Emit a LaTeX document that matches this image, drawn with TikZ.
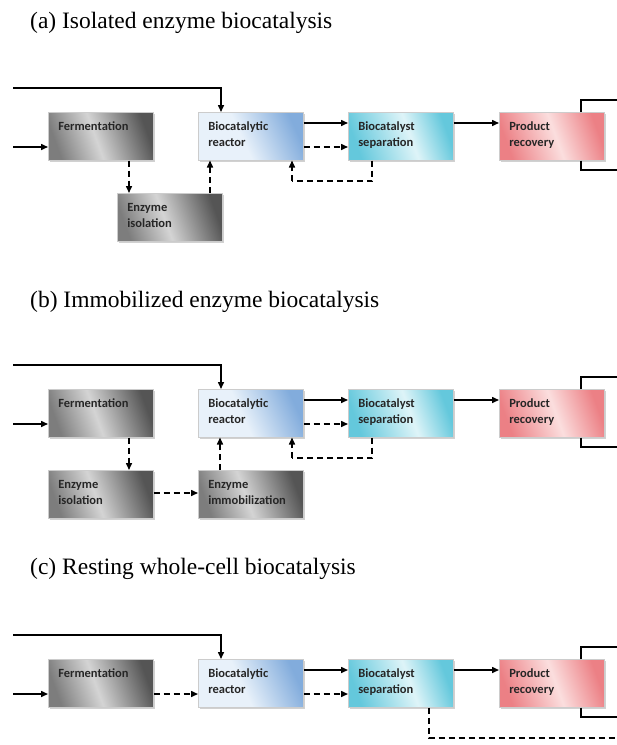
\documentclass[tikz,border=0pt]{standalone}
\usepackage{fontspec}
\setmainfont{Liberation Serif}
\newfontfamily\boxfont{Carlito}
\usetikzlibrary{arrows.meta,calc,shadows}
\definecolor{grayD}{RGB}{85,85,85}
\definecolor{grayM}{RGB}{125,125,125}
\definecolor{grayL}{RGB}{212,212,212}
\definecolor{blueD}{RGB}{130,172,220}
\definecolor{blueL}{RGB}{232,241,250}
\definecolor{cyanD}{RGB}{100,200,220}
\definecolor{cyanL}{RGB}{222,244,248}
\definecolor{pinkD}{RGB}{236,128,133}
\definecolor{pinkL}{RGB}{251,222,222}
\pgfdeclarehorizontalshading{grsh}{100bp}{color(0bp)=(grayM); color(25bp)=(grayM); color(47bp)=(grayL); color(75bp)=(grayD); color(100bp)=(grayD)}
\pgfdeclarehorizontalshading{blsh}{100bp}{color(0bp)=(blueL); color(25bp)=(blueL); color(45bp)=(blueL); color(75bp)=(blueD); color(100bp)=(blueD)}
\pgfdeclarehorizontalshading{cysh}{100bp}{color(0bp)=(cyanD); color(25bp)=(cyanD); color(55bp)=(cyanL); color(75bp)=(cyanD); color(100bp)=(cyanD)}
\pgfdeclarehorizontalshading{pksh}{100bp}{color(0bp)=(pinkD); color(25bp)=(pinkD); color(52bp)=(pinkL); color(75bp)=(pinkD); color(100bp)=(pinkD)}
\tikzset{
  proc/.style={rectangle, anchor=north west, inner xsep=10pt, inner ysep=0pt,
    text width=85pt, align=left, text height=18.5pt, text depth=29.5pt,
    font=\boxfont\bfseries\fontsize{12.5}{16}\selectfont, text=black!85,
    draw=black!20, line width=0.5pt,
    drop shadow={shadow xshift=1.5pt, shadow yshift=-1.5pt, opacity=0.3, fill=black!60}},
  graybox/.style={proc, shading=grsh, shading angle=20},
  bluebox/.style={proc, shading=blsh, shading angle=25},
  cyanbox/.style={proc, shading=cysh, shading angle=20},
  pinkbox/.style={proc, shading=pksh, shading angle=20},
  arr/.style={line width=1.5pt, -{Triangle[length=7pt,width=6pt]}},
  ln/.style={line width=1.5pt},
  dsh/.style={line width=1.5pt, dash pattern=on 6pt off 4pt},
  darr/.style={dsh, -{Triangle[length=7pt,width=6pt]}},
  ttl/.style={anchor=base west, font=\fontsize{23.5}{26}\selectfont, inner sep=0pt}
}
% common row: #1 = prefix
\newcommand\mainrow[1]{%
  \node[graybox] (#1ferm) at (48,112) {Fermentation};
  \node[bluebox] (#1reac) at (198,112) {Biocatalytic\\reactor};
  \node[cyanbox] (#1sep) at (348,112) {Biocatalyst\\separation};
  \node[pinkbox] (#1prod) at (499,112) {Product\\recovery};
  \coordinate (#1topin) at (13,88);
  \coordinate (#1in) at (13,147);
  \coordinate (#1rt) at (619,100);
  \coordinate (#1rb) at (619,170);
  \draw[arr] (#1topin) -| ($(#1reac.north west)+(23,0)$);
  \draw[arr] (#1in) -- (#1in -| #1ferm.west);
  \draw[arr] ($(#1reac.north east)+(0,11)$) coordinate (#1s1) -- (#1s1 -| #1sep.west);
  \draw[darr] ($(#1reac.north east)+(0,35)$) coordinate (#1d1) -- (#1d1 -| #1sep.west);
  \draw[arr] ($(#1sep.north east)+(0,11)$) coordinate (#1s2) -- (#1s2 -| #1prod.west);
  \draw[ln] ($(#1prod.north west)+(82,0)$) |- (#1rt);
  \draw[ln] ($(#1prod.south west)+(82,0)$) |- (#1rb);
}
\begin{document}
\begin{tikzpicture}[x=1pt,y=-1pt]
\useasboundingbox (0,0) rectangle (617,745);
% ---------------- (a)
\node[ttl] (ta) at (30,28) {(a) Isolated enzyme biocatalysis};
\begin{scope}
  \mainrow{a}
  \node[graybox] (aiso) at (117,193) {Enzyme\\isolation};
  \draw[darr] ($(aferm.south west)+(81,0)$) coordinate (ad2) -- (ad2 |- aiso.north);
  \draw[darr] ($(aiso.north west)+(93,0)$) coordinate (ad3) -- (ad3 |- areac.south);
  \coordinate (aret) at (292,181);
  \draw[dsh] ($(asep.south west)+(24,0)$) |- (aret);
  \draw[darr] (aret) -- (aret |- areac.south);
\end{scope}
% ---------------- (b)
\node[ttl] (tb) at (30,307) {(b) Immobilized enzyme biocatalysis};
\begin{scope}[yshift=-277pt]
  \mainrow{b}
  \node[graybox] (biso) at (48,193) {Enzyme\\isolation};
  \node[graybox] (bimm) at (198,193) {Enzyme\\immobilization};
  \draw[darr] ($(bferm.south west)+(81,0)$) coordinate (bd2) -- (bd2 |- biso.north);
  \draw[darr] ($(biso.north east)+(0,23)$) coordinate (bd3) -- (bd3 -| bimm.west);
  \draw[darr] ($(bimm.north west)+(22,0)$) coordinate (bd4) -- (bd4 |- breac.south);
  \coordinate (bret) at (292,181);
  \draw[dsh] ($(bsep.south west)+(24,0)$) |- (bret);
  \draw[darr] (bret) -- (bret |- breac.south);
\end{scope}
% ---------------- (c)
\node[ttl] (tc) at (30,574) {(c) Resting whole-cell biocatalysis};
\begin{scope}[yshift=-547pt]
  \mainrow{c}
  \draw[darr] ($(cferm.north east)+(0,35)$) coordinate (cd2) -- (cd2 -| creac.west);
  \coordinate (cout) at (619,191);
  \draw[dsh] ($(csep.south west)+(81,0)$) |- (cout);
\end{scope}
\end{tikzpicture}
\end{document}
